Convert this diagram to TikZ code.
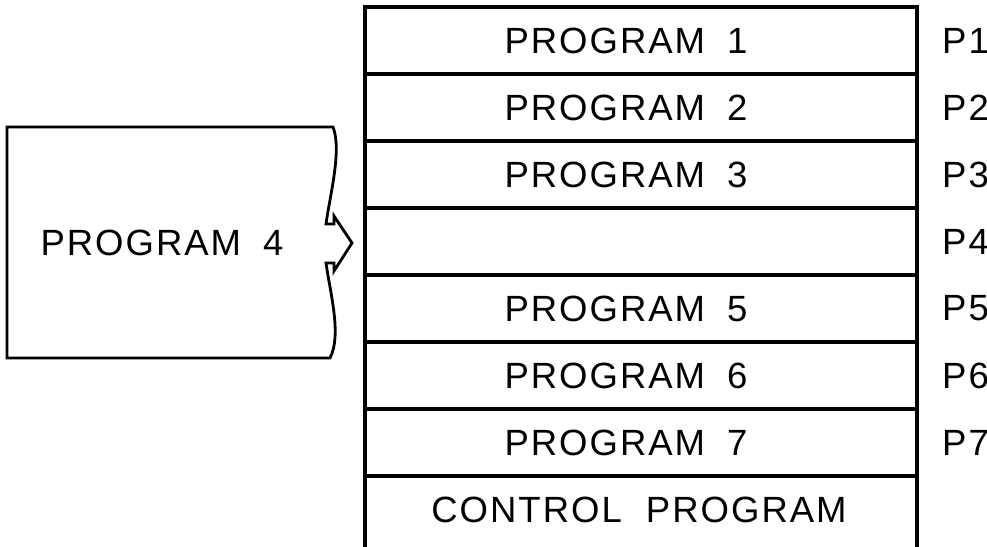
\documentclass[tikz,border=0pt]{standalone}
\usepackage{fontspec}
\setmainfont{Liberation Sans}[LetterSpace=5.5]
\begin{document}
\begin{tikzpicture}[x=1pt,y=-1pt,line join=miter]
\tikzset{
  txt/.style={font=\fontsize{36.5}{40}\selectfont, inner sep=0pt},
  row/.style={draw, line width=3.4pt, minimum width=552pt, minimum height=67pt, inner sep=0pt, outer sep=0pt},
  plabel/.style={txt, anchor=west},
  thick line/.style={line width=3.4pt, line cap=rect}
}
\newcommand{\gapp}{\hspace{22pt}}
\useasboundingbox (0,0) rectangle (987,546);
\node[row] (r1) at (641,40.5) {};
\node[row] (r2) at (641,107.5) {};
\node[row] (r3) at (641,174.5) {};
\node[row] (r4) at (641,241.5) {};
\node[row] (r5) at (641,308.5) {};
\node[row] (r6) at (641,375.5) {};
\node[row] (r7) at (641,442.5) {};
\node[txt] (t1) at (626,40.5) {PROGRAM\gapp 1};
\node[txt] (t2) at (626,107.5) {PROGRAM\gapp 2};
\node[txt] (t3) at (626,174.5) {PROGRAM\gapp 3};
\node[txt] (t5) at (626,308.5) {PROGRAM\gapp 5};
\node[txt] (t6) at (626,375.5) {PROGRAM\gapp 6};
\node[txt] (t7) at (626,442.5) {PROGRAM\gapp 7};
\node[txt] (ctl) at (639,510) {CONTROL\hspace{12pt} PROGRAM};
\coordinate (cbl) at (365,548);
\coordinate (cbr) at (917,548);
\draw[thick line] (r7.south west) -- (cbl);
\draw[thick line] (r7.south east) -- (cbr);
\node[plabel] (p1) at (942,40.5) {P1};
\node[plabel] (p2) at (942,107.5) {P2};
\node[plabel] (p3) at (942,174.5) {P3};
\node[plabel] (p4) at (942,241.5) {P4};
\node[plabel] (p5) at (942,308.5) {P5};
\node[plabel] (p6) at (942,375.5) {P6};
\node[plabel] (p7) at (942,442.5) {P7};
\draw[line width=2.8pt] (7,127) -- (333,127)
  .. controls (342,150) and (330,195) .. (326,224) -- (334,224) -- (334,216)
  -- (352,243) -- (334,271) -- (334,263) -- (326,263)
  .. controls (330,292) and (342,335) .. (330,358) -- (7,358) -- cycle;
\node[txt] (prog4) at (162,243) {PROGRAM\gapp 4};
\end{tikzpicture}
\end{document}
